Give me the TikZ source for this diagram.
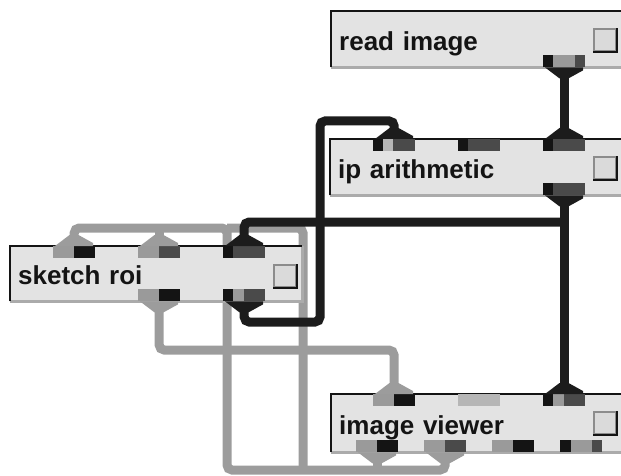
\documentclass[tikz,border=0pt]{standalone}
\usepackage{fontspec}
\setmainfont{Liberation Sans}
\usetikzlibrary{positioning, backgrounds}

\definecolor{panel}{HTML}{E3E3E3}
\definecolor{ink}{HTML}{141414}
\definecolor{rim}{HTML}{ABABAB}
\definecolor{pblack}{HTML}{141414}
\definecolor{pdark}{HTML}{4A4A4A}
\definecolor{pmid}{HTML}{9A9A9A}
\definecolor{plight}{HTML}{B6B6B6}
\definecolor{wirek}{HTML}{1C1C1C}
\definecolor{wireg}{HTML}{9C9C9C}
\definecolor{knob}{HTML}{DADADA}
\definecolor{knobedge}{HTML}{8C8C8C}

\begin{document}
\begin{tikzpicture}[x=1pt, y=-1pt,
    module/.style={rectangle, anchor=north west, fill=panel, text=ink, text width=284pt, align=left, minimum height=56pt, inner xsep=8pt, inner ysep=0pt, text height=22pt, text depth=0pt, font=\fontsize{26}{30}\selectfont\bfseries},
    port/.style={rectangle, anchor=north west, inner sep=0pt, minimum width=42pt, minimum height=12pt, fill=pdark, path picture={\foreach \x/\w/\col in {#1} \fill[\col] ([xshift=\x]path picture bounding box.north west) rectangle ++(\w,12);}},
    toggle/.style={rectangle, inner sep=0pt, minimum size=22pt, fill=knob, draw=knobedge, line width=2pt},
    wire/.style={line width=9pt, rounded corners=5pt},
    dataflow/.style={wire, draw=wirek},
    ctrlflow/.style={wire, draw=wireg}
]
    \clip (0,0) rectangle (621,476);

    % modules
    \node[module] (read) at (331,11) {read image};
    \node[module] (ip) at (330,139) {ip arithmetic};
    \node[module, text width=276pt, minimum height=55pt] (sketch) at (10,246) {sketch roi};
    \node[module, minimum height=58pt] (viewer) at (331,394) {image viewer};

    % bevelled edges
    \foreach \m in {read, ip, sketch, viewer} {
        \draw[rim, line width=3pt] (\m.south west) -- (\m.south east) -- (\m.north east);
        \draw[ink, line width=2.5pt] (\m.south west) -- (\m.north west) -- (\m.north east);
    }

    % toggles
    \node[toggle] (read-tg) at (605,40) {};
    \node[toggle] (ip-tg) at (605,168) {};
    \node[toggle] (sketch-tg) at (285,276) {};
    \node[toggle] (viewer-tg) at (605,423) {};
    \foreach \t in {read-tg, ip-tg, sketch-tg, viewer-tg}
        \draw[ink, line width=2pt] (\t.south west) -- (\t.south east) -- (\t.north east);

    % ports
    \node[port={0/10/pblack,10/22/pmid,32/10/pdark}] (read-out) at (543,55) {};
    \node[port={0/10/pblack,10/10/plight,20/22/pdark}] (ip-in1) at (373,139) {};
    \node[port={0/10/pblack,10/32/pdark}] (ip-in2) at (458,139) {};
    \node[port={0/10/pblack,10/32/pdark}] (ip-in3) at (543,139) {};
    \node[port={0/10/pblack,10/32/pdark}] (ip-out) at (543,183) {};
    \node[port={0/21/pmid,21/21/pblack}] (sketch-in1) at (53,246) {};
    \node[port={0/21/pmid,21/21/pdark}] (sketch-in2) at (138,246) {};
    \node[port={0/10/pblack,10/32/pdark}] (sketch-in3) at (223,246) {};
    \node[port={0/21/pmid,21/21/pblack}] (sketch-out1) at (138,289) {};
    \node[port={0/10/pblack,10/11/pmid,21/21/pdark}] (sketch-out2) at (223,289) {};
    \node[port={0/21/pmid,21/21/pblack}] (viewer-in1) at (373,394) {};
    \node[port={0/42/plight}] (viewer-in2) at (458,394) {};
    \node[port={0/10/pblack,10/11/pmid,21/21/pdark}] (viewer-in3) at (543,394) {};
    \node[port={0/21/pmid,21/21/pblack}] (viewer-out1) at (356,440) {};
    \node[port={0/21/pmid,21/21/pdark}] (viewer-out2) at (424,440) {};
    \node[port={0/21/pmid,21/21/pblack}] (viewer-out3) at (492,440) {};
    \node[port={0/11/pblack,11/21/pmid,32/10/pdark}] (viewer-out4) at (560,440) {};

    % flared wire ends
    \foreach \p/\col in {read-out/wirek, ip-out/wirek, sketch-out1/wireg, sketch-out2/wirek, viewer-out1/wireg, viewer-out2/wireg}
        \fill[\col] ([xshift=2]\p.south west) -- ++(38,0) -- ++(0,3) -- ++(-14.5,8) -- ++(-9,0) -- cycle;
    \foreach \p/\col in {ip-in1/wirek, ip-in3/wirek, sketch-in1/wireg, sketch-in2/wireg, sketch-in3/wirek, viewer-in1/wireg, viewer-in3/wirek}
        \fill[\col] ([xshift=2]\p.north west) -- ++(38,0) -- ++(0,-3) -- ++(-14.5,-8) -- ++(-9,0) -- cycle;

    % wires, grey ones underneath
    \begin{scope}[on background layer]
        \coordinate (tee) at (564,222);
        \coordinate (loopa) at (320,322);
        \coordinate (loopb) at (320,121);
        \coordinate (grayrun) at (394,350);
        \coordinate (gll) at (227,470);
        \coordinate (gur) at (303,228);

        \draw[ctrlflow] (sketch-out1.south) |- (grayrun) -- (viewer-in1.north);
        \draw[ctrlflow] (viewer-out2.south) |- (gll) |- (sketch-in1.north |- gur) -- (sketch-in1.north);
        \draw[ctrlflow] (viewer-out1.south) -- (viewer-out1.south |- gll);
        \draw[ctrlflow] (gll |- gur) -- (gur) -- (gur |- gll);
        \draw[ctrlflow] (sketch-in2.north) -- (sketch-in2.north |- gur);

        \draw[dataflow] (read-out.south) -- (ip-in3.north);
        \draw[dataflow] (ip-out.south) -- (viewer-in3.north);
        \draw[dataflow] (tee) -| (sketch-in3.north);
        \draw[dataflow] (sketch-out2.south) |- (loopa) -- (loopb) -| (ip-in1.north);
    \end{scope}
\end{tikzpicture}
\end{document}
